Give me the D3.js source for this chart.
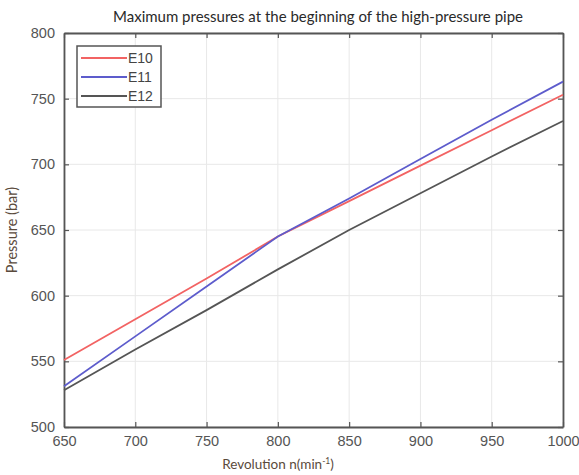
<!DOCTYPE html>
<html><head><meta charset="utf-8">
<script src="https://cdn.jsdelivr.net/npm/d3@7"></script>
<style>body{margin:0;background:#fff;}</style>
</head><body>
<svg id="chart" width="579" height="475"></svg>
<script>
const revolutions = [650, 700, 750, 800, 850, 900, 950, 1000];
const e10 = [551, 582, 613, 645, 672, 699, 726, 753];
const e11 = [531, 569, 607, 645, 674, 704, 734, 763];
const e12 = [528, 559, 589, 620, 650, 678, 706, 733];
const seriesNames = ["E10", "E11", "E12"];
const seriesColors = ["#f26363", "#5d5ccc", "#555555"];
const xTicks = [650, 700, 750, 800, 850, 900, 950, 1000];
const yTicks = [500, 550, 600, 650, 700, 750, 800];

const series = [e10, e11, e12];
const svg = d3.select("#chart");
const m = {left: 64, right: 16, top: 33, bottom: 48};
const W = 579, H = 475;
const x = d3.scaleLinear().domain([650, 1000]).range([m.left, W - m.right]);
const y = d3.scaleLinear().domain([500, 800]).range([H - m.bottom, m.top]);

// grid
svg.append("g").selectAll("line.gx").data(xTicks).join("line")
  .attr("x1", d => x(d)).attr("x2", d => x(d)).attr("y1", y(500)).attr("y2", y(800))
  .attr("stroke", "#e8e8e8").attr("stroke-width", 1);
svg.append("g").selectAll("line.gy").data(yTicks).join("line")
  .attr("y1", d => y(d)).attr("y2", d => y(d)).attr("x1", x(650)).attr("x2", x(1000))
  .attr("stroke", "#e8e8e8").attr("stroke-width", 1);

// axes
const fontTick = "'Liberation Sans', Arial, sans-serif";
const fmt = d3.format("d");
const xAxis = svg.append("g").attr("transform", `translate(0,${y(500)})`)
  .call(d3.axisBottom(x).tickValues(xTicks).tickFormat(fmt).tickSize(-5).tickPadding(9).tickSizeOuter(0));
const yAxis = svg.append("g").attr("transform", `translate(${x(650)},0)`)
  .call(d3.axisLeft(y).tickValues(yTicks).tickFormat(fmt).tickSize(-5).tickPadding(9).tickSizeOuter(0));
const xTop = svg.append("g").attr("transform", `translate(0,${y(800)})`)
  .call(d3.axisTop(x).tickValues(xTicks).tickSize(-5).tickFormat("").tickSizeOuter(0));
const yRight = svg.append("g").attr("transform", `translate(${x(1000)},0)`)
  .call(d3.axisRight(y).tickValues(yTicks).tickSize(-5).tickFormat("").tickSizeOuter(0));
[xAxis, yAxis, xTop, yRight].forEach(g => {
  g.select(".domain").attr("stroke", "#555").attr("stroke-width", 1.8);
  g.selectAll(".tick line").attr("stroke", "#555").attr("stroke-width", 1.2);
  g.selectAll("text").attr("fill", "#555").style("font-family", fontTick).style("font-size", "14.5px");
});

// lines
const line = d3.line().x((d, i) => x(revolutions[i])).y(d => y(d));
series.forEach((s, i) => {
  svg.append("path").datum(s).attr("d", line).attr("fill", "none")
    .attr("stroke", seriesColors[i]).attr("stroke-width", 1.8);
});

// legend
const lg = svg.append("g");
lg.append("rect").attr("x", 77).attr("y", 46).attr("width", 84).attr("height", 61)
  .attr("fill", "#fff").attr("stroke", "#555").attr("stroke-width", 1.5);
seriesNames.forEach((n, i) => {
  const yy = 58 + i * 19;
  lg.append("line").attr("x1", 81).attr("x2", 127).attr("y1", yy).attr("y2", yy)
    .attr("stroke", seriesColors[i]).attr("stroke-width", 1.8);
  lg.append("text").attr("x", 128).attr("y", yy + 5).text(n)
    .attr("fill", "#444").style("font-family", fontTick).style("font-size", "14px");
});

// title and axis labels
const fontLabel = "Lato, 'Open Sans', sans-serif";
svg.append("text").attr("x", 318).attr("y", 22).attr("text-anchor", "middle")
  .text("Maximum pressures at the beginning of the high-pressure pipe")
  .attr("fill", "#2a2a2a").style("font-family", fontLabel).style("font-size", "15px");
const xl = svg.append("text").attr("x", 278).attr("y", 469).attr("text-anchor", "middle")
  .attr("fill", "#5a4a3c").style("font-family", fontLabel).style("font-size", "13.5px");
xl.append("tspan").text("Revolution n(min");
xl.append("tspan").text("-1").attr("dy", -5).style("font-size", "8.5px");
xl.append("tspan").text(")").attr("dy", 5);
svg.append("text").attr("transform", "translate(17,230) rotate(-90)").attr("text-anchor", "middle")
  .text("Pressure (bar)").attr("fill", "#5a4a3c")
  .style("font-family", fontLabel).style("font-size", "14.5px");
</script>
</body></html>
